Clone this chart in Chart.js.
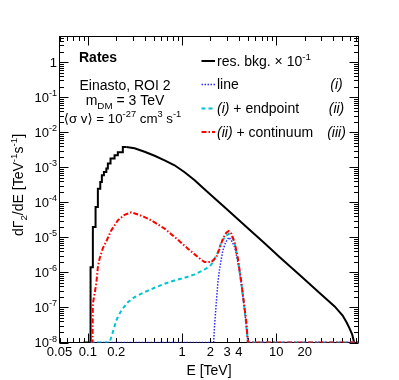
<!DOCTYPE html>
<html>
<head>
<meta charset="utf-8">
<script src="https://cdn.jsdelivr.net/npm/chart.js@4.4.1/dist/chart.umd.min.js"></script>
<style>
  body { margin: 0; background: #fff; }
</style>
</head>
<body>
<canvas id="rates" width="399" height="380"></canvas>
<script>
// energies in TeV, rates in TeV^-1 s^-1

// res. bkg. x 1e-1 : binned rise at low energy (drawn as histogram steps)
const bkgStepE = [0.09, 0.1068, 0.113, 0.1207, 0.1277, 0.1354, 0.1408, 0.148, 0.157, 0.163, 0.174, 0.192, 0.208, 0.235, 0.2557];
const bkgStepRate = [1e-8, 1.41e-6, 1.97e-5, 7.3e-5, 2.46e-4, 3.8e-4, 5.9e-4, 7.3e-4, 9.2e-4, 1.28e-3, 1.77e-3, 2.2e-3, 2.7e-3, 3.8e-3, 3.8e-3];
// res. bkg. x 1e-1 : rest of the spectrum
const bkgE = [0.2557, 0.313, 0.400, 0.511, 0.652, 0.832, 1.064, 1.36, 1.73, 2.21, 2.83, 3.61, 5.20, 7.51, 10.8, 17.7, 28.8, 41.6, 50.6, 55.8, 60.0, 63.8, 67];
const bkgRate = [3.8e-3, 3.49e-3, 2.77e-3, 2.13e-3, 1.58e-3, 1.14e-3, 7.2e-4, 4.26e-4, 2.35e-4, 1.3e-4, 7.2e-5, 3.98e-5, 1.64e-5, 6.75e-6, 2.77e-6, 8.5e-7, 2.6e-7, 1.07e-7, 5.9e-8, 3.7e-8, 2.5e-8, 1.7e-8, 1e-8];

// (i) line
const lineE = [0.107, 2.16, 2.21, 2.31, 2.40, 2.50, 2.61, 2.71, 2.90, 3.14, 3.33, 3.61, 3.91, 4.25, 4.61, 4.92, 5.0, 74.5];
const lineRate = [1e-8, 1e-8, 3.06e-8, 1.42e-7, 5.3e-7, 1.28e-6, 2.46e-6, 4.25e-6, 7.3e-6, 1.0e-5, 8.2e-6, 5.3e-6, 1.97e-6, 4.75e-7, 8.2e-8, 1.58e-8, 1e-8, 1e-8];

// (ii) line + endpoint
const endpointE = [0.107, 0.170, 0.184, 0.200, 0.226, 0.266, 0.313, 0.400, 0.511, 0.652, 0.832, 1.064, 1.36, 1.66, 1.81, 2.04, 2.21, 2.40, 2.61, 2.94, 3.14, 3.33, 3.61, 3.91, 4.25, 4.61, 5.0, 74.5];
const endpointRate = [1e-8, 1e-8, 1.97e-8, 4.25e-8, 8.2e-8, 1.42e-7, 1.97e-7, 2.74e-7, 3.65e-7, 4.75e-7, 5.9e-7, 7.06e-7, 8.8e-7, 1.14e-6, 1.3e-6, 1.66e-6, 2.46e-6, 3.8e-6, 7.3e-6, 1.14e-5, 1.25e-5, 1.15e-5, 6.8e-6, 2.3e-6, 5.1e-7, 9e-8, 1e-8, 1e-8];

// (iii) endpoint + continuum
const contE = [0.107, 0.112, 0.113, 0.1228, 0.1277, 0.133, 0.144, 0.157, 0.177, 0.208, 0.245, 0.289, 0.340, 0.400, 0.471, 0.652, 0.903, 1.153, 1.47, 1.73, 2.04, 2.31, 2.50, 2.71, 2.94, 3.12, 3.33, 3.61, 3.91, 4.25, 4.61, 4.81, 5.0, 74.5];
const contRate = [1e-8, 1e-8, 1.28e-7, 4.75e-7, 1.42e-6, 2.46e-6, 4.85e-6, 7.7e-6, 1.58e-5, 3.06e-5, 4.4e-5, 5.2e-5, 4.5e-5, 3.8e-5, 3.06e-5, 1.77e-5, 8.5e-6, 4.75e-6, 2.74e-6, 1.97e-6, 1.97e-6, 2.74e-6, 4.75e-6, 9.2e-6, 1.36e-5, 1.51e-5, 1.28e-5, 7.3e-6, 2.46e-6, 5.3e-7, 9.2e-8, 3.8e-8, 1e-8, 1e-8];

// axis labels
const xTickLabels = [0.05, 0.1, 0.2, 1, 2, 3, 4, 10, 20];
const yTickExps = [-8, -7, -6, -5, -4, -3, -2, -1, 0];

const FONT = "'Liberation Sans', Arial, sans-serif";

const pts = (xs, ys) => xs.map((x, i) => ({ x: x, y: ys[i] }));

// draw a string made of parts: {t, sup, sub, i, b, f}
function rich(ctx, parts, x, y, size, align) {
  const fontFor = (p) => {
    const s = p.sup || p.sub ? size * 0.7 : size;
    return (p.i ? "italic " : "") + (p.b ? "bold " : "") + s + "px " + (p.f || FONT);
  };
  let w = 0;
  const widths = parts.map((p) => {
    ctx.font = fontFor(p);
    const pw = ctx.measureText(p.t).width;
    w += pw;
    return pw;
  });
  let cx = align === "right" ? x - w : align === "center" ? x - w / 2 : x;
  ctx.textAlign = "left";
  ctx.textBaseline = "alphabetic";
  parts.forEach((p, i) => {
    ctx.font = fontFor(p);
    const dy = p.sup ? -size * 0.42 : p.sub ? size * 0.25 : 0;
    ctx.fillText(p.t, cx, y + dy);
    cx += widths[i];
  });
}

const styles = {
  bkg: { color: "#000000", width: 2, dash: [] },
  line: { color: "#2a2aff", width: 1.5, dash: [1.5, 1.5] },
  endpoint: { color: "#00c4d2", width: 2, dash: [4, 3] },
  cont: { color: "#ff0000", width: 2, dash: [5, 2, 1.5, 2] },
};

// ROOT-like frame with ticks on all four sides
const frame = {
  id: "frame",
  beforeDatasetsDraw(chart) {
    const { ctx, chartArea: a, scales } = chart;
    const xs = scales.x;
    const ys = scales.y;
    ctx.save();
    ctx.strokeStyle = "#000";
    ctx.lineWidth = 1;
    ctx.strokeRect(a.left, a.top, a.right - a.left, a.bottom - a.top);
    ctx.beginPath();
    for (let k = -2; k <= 1; k++) {
      for (let m = 1; m <= 9; m++) {
        const v = m * Math.pow(10, k);
        if (v < xs.min * 0.999 || v > xs.max) continue;
        const px = Math.round(xs.getPixelForValue(v)) + 0.5;
        const len = m === 1 ? 9 : 4.5;
        ctx.moveTo(px, a.bottom);
        ctx.lineTo(px, a.bottom - len);
        ctx.moveTo(px, a.top);
        ctx.lineTo(px, a.top + len);
      }
    }
    for (let k = -8; k <= 0; k++) {
      for (let m = 1; m <= 9; m++) {
        const v = m * Math.pow(10, k);
        if (v > ys.max) continue;
        const py = Math.round(ys.getPixelForValue(v)) + 0.5;
        const len = m === 1 ? 9 : 4.5;
        ctx.moveTo(a.left, py);
        ctx.lineTo(a.left + len, py);
        ctx.moveTo(a.right, py);
        ctx.lineTo(a.right - len, py);
      }
    }
    ctx.stroke();
    ctx.restore();
  },
  afterDraw(chart) {
    const { ctx, scales } = chart;
    const xs = scales.x;
    const ys = scales.y;
    ctx.save();
    ctx.fillStyle = "#000";

    // tick labels
    xTickLabels.forEach((v) => {
      rich(ctx, [{ t: String(v) }], xs.getPixelForValue(v), 356, 13, "center");
    });
    yTickExps.forEach((e) => {
      const py = ys.getPixelForValue(Math.pow(10, e));
      const parts = e === 0 ? [{ t: "1" }] : [{ t: "10" }, { t: "-" + Math.abs(e), sup: true }];
      rich(ctx, parts, 57, py + 4.5, 13, "right");
    });

    // axis titles
    rich(ctx, [{ t: "E [TeV]" }], 209, 375, 14, "center");
    ctx.save();
    ctx.translate(23, 185);
    ctx.rotate(-Math.PI / 2);
    rich(ctx, [
      { t: "d\u0393" }, { t: "2", sub: true }, { t: "/dE [TeV" },
      { t: "-1", sup: true }, { t: "s" }, { t: "-1", sup: true }, { t: "]" },
    ], 0, 0, 14, "center");
    ctx.restore();

    // annotations
    rich(ctx, [{ t: "Rates", b: true }], 79, 62, 14, "left");
    rich(ctx, [{ t: "Einasto, ROI 2" }], 125, 89.5, 14, "center");
    rich(ctx, [{ t: "m" }, { t: "DM", sub: true }, { t: " = 3 TeV" }], 125, 105, 14, "center");
    rich(ctx, [
      { t: "\u27E8", f: "'DejaVu Sans'" }, { t: "\u03C3 v" }, { t: "\u27E9", f: "'DejaVu Sans'" },
      { t: " = 10" }, { t: "-27", sup: true }, { t: " cm" },
      { t: "3", sup: true }, { t: " s" }, { t: "-1", sup: true },
    ], 122.5, 123, 13.3, "center");

    // legend
    const entries = [
      { s: styles.bkg, y: 61, text: [{ t: "res. bkg. \u00D7 10" }, { t: "-1", sup: true }], tag: "" },
      { s: styles.line, y: 84.5, text: [{ t: "line" }], tag: "(i)" },
      { s: styles.endpoint, y: 108.5, text: [{ t: "(i)", i: true }, { t: " + endpoint" }], tag: "(ii)" },
      { s: styles.cont, y: 132, text: [{ t: "(ii)", i: true }, { t: " + continuum" }], tag: "(iii)" },
    ];
    entries.forEach((en) => {
      ctx.save();
      ctx.strokeStyle = en.s.color;
      ctx.lineWidth = en.s.width;
      ctx.setLineDash(en.s.dash);
      ctx.beginPath();
      ctx.moveTo(201.5, en.y);
      ctx.lineTo(215, en.y);
      ctx.stroke();
      ctx.restore();
      rich(ctx, en.text, 217, en.y + 4.8, 14, "left");
      if (en.tag) rich(ctx, [{ t: en.tag, i: true }], 336.5, en.y + 4.8, 14, "center");
    });
    ctx.restore();
  },
};

const ds = (label, data, st, extra) =>
  Object.assign({
    label: label,
    data: data,
    borderColor: st.color,
    borderWidth: st.width,
    borderDash: st.dash,
    pointRadius: 0,
    fill: false,
    tension: 0,
  }, extra || {});

new Chart(document.getElementById("rates"), {
  type: "line",
  data: {
    datasets: [
      ds("(ii) + continuum", pts(contE, contRate), styles.cont),
      ds("(i) + endpoint", pts(endpointE, endpointRate), styles.endpoint),
      ds("line", pts(lineE, lineRate), styles.line),
      // horizontal first, then the riser at the next bin edge
      ds("res. bkg. steps", pts(bkgStepE, bkgStepRate), styles.bkg, { stepped: "before" }),
      ds("res. bkg.", pts(bkgE, bkgRate), styles.bkg),
    ],
  },
  options: {
    responsive: false,
    animation: false,
    layout: {
      padding: { left: 59.5, top: 36.5, right: 40.5, bottom: 37.5 },
    },
    scales: {
      x: { type: "logarithmic", min: 0.05, max: 74.5, display: false },
      y: { type: "logarithmic", min: 1e-8, max: 5.4, display: false },
    },
    plugins: {
      legend: { display: false },
      tooltip: { enabled: false },
    },
  },
  plugins: [frame],
});
</script>
</body>
</html>
